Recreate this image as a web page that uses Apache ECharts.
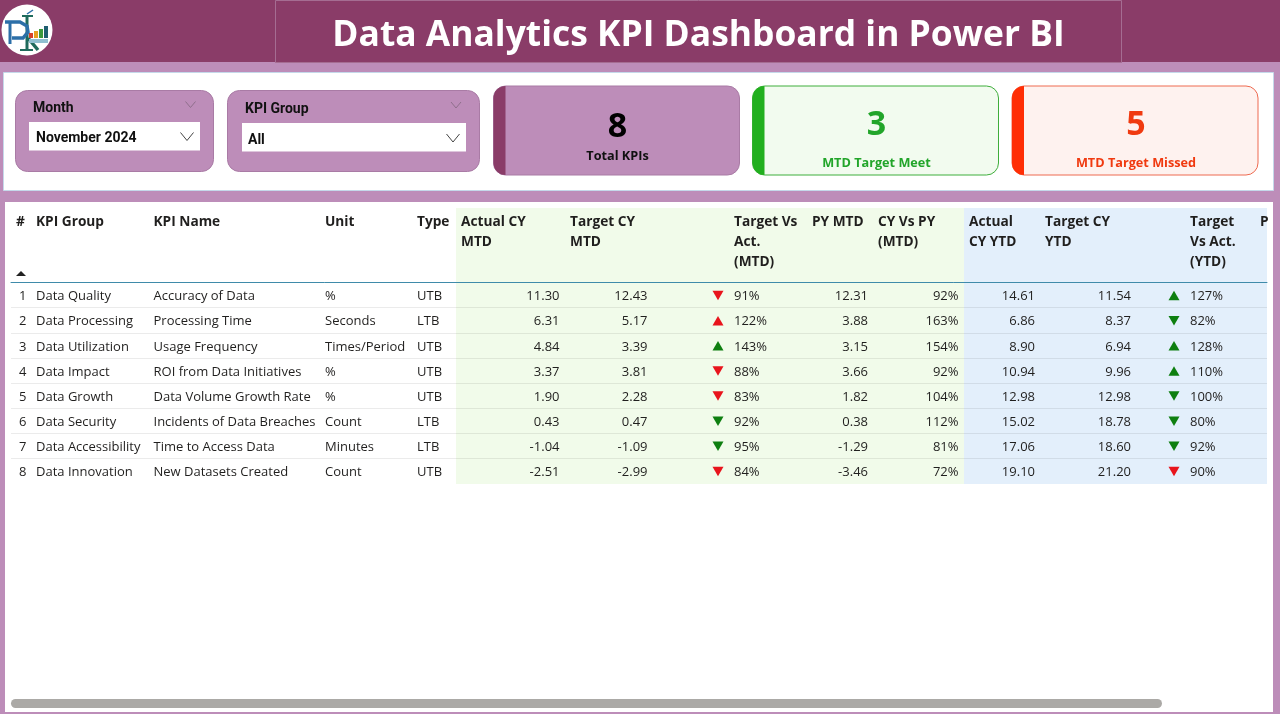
<!DOCTYPE html>
<html><head><meta charset="utf-8">
<style>html,body{margin:0;padding:0;background:#fff}#c{width:1280px;height:714px}</style>
<script src="https://cdn.jsdelivr.net/npm/echarts@6/dist/echarts.min.js"></script>
</head><body><div id="c"></div>
<script>
const titleText = 'Data Analytics KPI Dashboard in Power BI';
const totalKpis = 8, targetMeet = 3, targetMissed = 5;
const rowNumbers = ['1','2','3','4','5','6','7','8'];
const kpiGroups = ['Data Quality','Data Processing','Data Utilization','Data Impact','Data Growth','Data Security','Data Accessibility','Data Innovation'];
const kpiNames = ['Accuracy of Data','Processing Time','Usage Frequency','ROI from Data Initiatives','Data Volume Growth Rate','Incidents of Data Breaches','Time to Access Data','New Datasets Created'];
const units = ['%','Seconds','Times/Period','%','%','Count','Minutes','Count'];
const types = ['UTB','LTB','UTB','UTB','UTB','LTB','LTB','UTB'];
const actualMtd = ['11.30','6.31','4.84','3.37','1.90','0.43','-1.04','-2.51'];
const targetMtd = ['12.43','5.17','3.39','3.81','2.28','0.47','-1.09','-2.99'];
const tvaMtd = ['91%','122%','143%','88%','83%','92%','95%','84%'];
const pyMtd = ['12.31','3.88','3.15','3.66','1.82','0.38','-1.29','-3.46'];
const cyPyMtd = ['92%','163%','154%','92%','104%','112%','81%','72%'];
const actualYtd = ['14.61','6.86','8.90','10.94','12.98','15.02','17.06','19.10'];
const targetYtd = ['11.54','8.37','6.94','9.96','12.98','18.78','18.60','21.20'];
const tvaYtd = ['127%','82%','128%','110%','100%','80%','92%','90%'];
const mtdUp = [false,true,true,false,false,false,false,false];
const mtdGood = [false,false,true,false,false,true,true,false];
const ytdUp = [true,false,true,true,false,false,false,false];
const ytdGood = [true,true,true,true,true,true,true,false];

const FF = '"Open Sans"';
const BG='#BD8DB9', DARK='#8A3C68', INK='#201F1E';
const bodyFont = '13px '+FF, headFont = '700 13.7px '+FF, slicerFont='700 14px Roboto';

const textCols = [
  {x:26.5,a:'right',v:rowNumbers},{x:36,a:'left',v:kpiGroups},{x:153.5,a:'left',v:kpiNames},
  {x:325,a:'left',v:units},{x:417,a:'left',v:types},
  {x:559.5,a:'right',v:actualMtd},{x:647.5,a:'right',v:targetMtd},{x:734,a:'left',v:tvaMtd},
  {x:868,a:'right',v:pyMtd},{x:958.5,a:'right',v:cyPyMtd},
  {x:1035,a:'right',v:actualYtd},{x:1131,a:'right',v:targetYtd},{x:1190,a:'left',v:tvaYtd}
];
const headers = [
  {x:16,t:['#']},{x:36,t:['KPI Group']},{x:153.5,t:['KPI Name']},{x:325,t:['Unit']},{x:417,t:['Type']},
  {x:461,t:['Actual CY','MTD']},{x:570,t:['Target CY','MTD']},{x:734,t:['Target Vs','Act.','(MTD)']},
  {x:812,t:['PY MTD']},{x:878,t:['CY Vs PY','(MTD)']},{x:969,t:['Actual','CY YTD']},
  {x:1045,t:['Target CY','YTD']},{x:1190,t:['Target','Vs Act.','(YTD)']},{x:1260,t:['P']}
];
const txt=(x,y,text,font,fill,align)=>({type:'text',style:{x,y,text,font,fill,align:align||'left',verticalAlign:'middle'}});
const box=(x,y,w,h,fill,stroke,r)=>({type:'rect',shape:{x,y,width:w,height:h,r:r||0},style:{fill,stroke:stroke||null,lineWidth:stroke?1:0}});
const pl=(pts,c,w)=>({type:'polyline',shape:{points:pts},style:{stroke:c,fill:null,lineWidth:w}});
const chev=(cx,cy,w,h,c)=>pl([[cx-w,cy-h],[cx,cy+h],[cx+w,cy-h]],c,1);
const card=(x,fill,border,band,num,label,numColor,labelY,numY)=>[
  box(x,86,246,89,fill,border,12),
  box(x,86,12,89,band,null,[12,0,0,12]),
  txt(x+124,numY,String(num),'700 34px '+FF,numColor,'center'),
  txt(x+124,labelY,label,'700 12.7px '+FF,numColor==='#000'?'#111':numColor,'center')
];
const chrome=[
  box(0,0,1280,714,BG),
  box(0,0,1280,62,DARK),
  {type:'rect',shape:{x:275.5,y:0.5,width:846,height:62},style:{fill:DARK,stroke:'#A56D92',lineWidth:1}},
  txt(698.5,35.5,titleText,'700 35.4px '+FF,'#fff','center'),
  box(3.5,72.5,1270,118,'#fff','#C5D9EA'),
  box(5,202,1268,510,'#fff'),
  box(456,208,508,276,'#F1FBEA'),
  box(964,208,303,276,'#E3EFFB'),
  box(15.5,90.5,198,81,BG,'#A97BA5',12),
  box(227.5,90.5,252,81,BG,'#A97BA5',12),
  txt(33,108.5,'Month',slicerFont,'#111'),
  chev(190.5,104.5,5,3,'#8f6f8c'),
  box(29,122,171,28.5,'#fff'),
  txt(36,138.5,'November 2024',slicerFont,'#111'),
  chev(187,136.5,6.5,4,'#444'),
  txt(245,109.5,'KPI Group',slicerFont,'#111'),
  chev(456,105,5,3,'#8f6f8c'),
  box(242,123,224,28.5,'#fff'),
  txt(248,140,'All',slicerFont,'#111'),
  chev(453,138,6.5,4,'#444'),
  ...card(493.5,BG,'#A97BA5',DARK,totalKpis,'Total KPIs','#000',156.5,127),
  ...card(752.5,'#F2FBEF','#3FAE3C','#22AF1F',targetMeet,'MTD Target Meet','#22A52A',163.5,125.5),
  ...card(1012,'#FEF2EF','#EE6A50','#FF2E05',targetMissed,'MTD Target Missed','#F03A10',163.5,125.5),
  {type:'polygon',shape:{points:[[16,276],[21,271],[26,276]]},style:{fill:'#222'}},
  box(11,699,1151,9,'#ABA9A6',null,4.5),
  // logo
  {type:'circle',shape:{cx:27,cy:30,r:25.5},style:{fill:'#fff'}},
  pl([[22,16],[33,16]],'#1F6B5C',2),pl([[27,16],[27,50]],'#1F6B5C',3),
  pl([[20,50],[33,50]],'#1F6B5C',2),pl([[28,38],[38,50]],'#1F6B5C',3.5),
  pl([[5,22],[20,22],[27,26],[28,32],[23,38],[12,38]],'#2C6FA8',3.5),
  pl([[10,22],[10,44]],'#2C6FA8',3),
  pl([[27,14],[33,10]],'#2C6FA8',1.5),
  box(29,33,4,5,'#D8402A'),box(34,31,4,7,'#E8A020'),box(39,29,4,9,'#3C9A3C'),box(44,26,4,12,'#1F5F70'),
  box(29,39,19,4,'#8FBFD0'),
  ...headers.flatMap(h=>h.t.map((s,i)=>txt(h.x,222+i*20,s,headFont,INK)))
];

const cellSeries = textCols.map(c=>({
  type:'custom', coordinateSystem:'cartesian2d', silent:true,
  data:c.v.map((_,i)=>[c.x,i]),
  renderItem:(p,api)=>{
    const pt=api.coord([api.value(0),api.value(1)]);
    return txt(pt[0],pt[1]+1.5,c.v[p.dataIndex],bodyFont,INK,c.a);
  }
}));
const arrowSeries=(x,up,good)=>({
  type:'scatter',silent:true,symbol:'triangle',symbolSize:[11,9.5],symbolOffset:[0,0.5],
  itemStyle:{opacity:1},
  data:up.map((u,i)=>({value:[x,i],symbolRotate:u?0:180,itemStyle:{opacity:1,color:good[i]?'#0E7F10':'#E8141C'}}))
});

const chart=echarts.init(document.getElementById('c'),null,{renderer:'canvas'});
chart.setOption({
  animation:false,
  graphic:{elements:chrome},
  grid:{left:11,top:282.5,width:1256,height:201,containLabel:false},
  xAxis:{type:'value',min:11,max:1267,position:'top',
    axisLine:{show:true,onZero:false,lineStyle:{color:'#3F8BAA',width:1}},
    axisTick:{show:false},axisLabel:{show:false},splitLine:{show:false}},
  yAxis:{type:'category',inverse:true,data:rowNumbers,
    axisLine:{show:false},axisTick:{show:false},axisLabel:{show:false},
    splitLine:{show:true,showMinLine:false,showMaxLine:false,lineStyle:{color:'rgba(0,0,0,0.08)',width:1}}},
  series:[...cellSeries,arrowSeries(718,mtdUp,mtdGood),arrowSeries(1174,ytdUp,ytdGood)]
});
</script></body></html>
